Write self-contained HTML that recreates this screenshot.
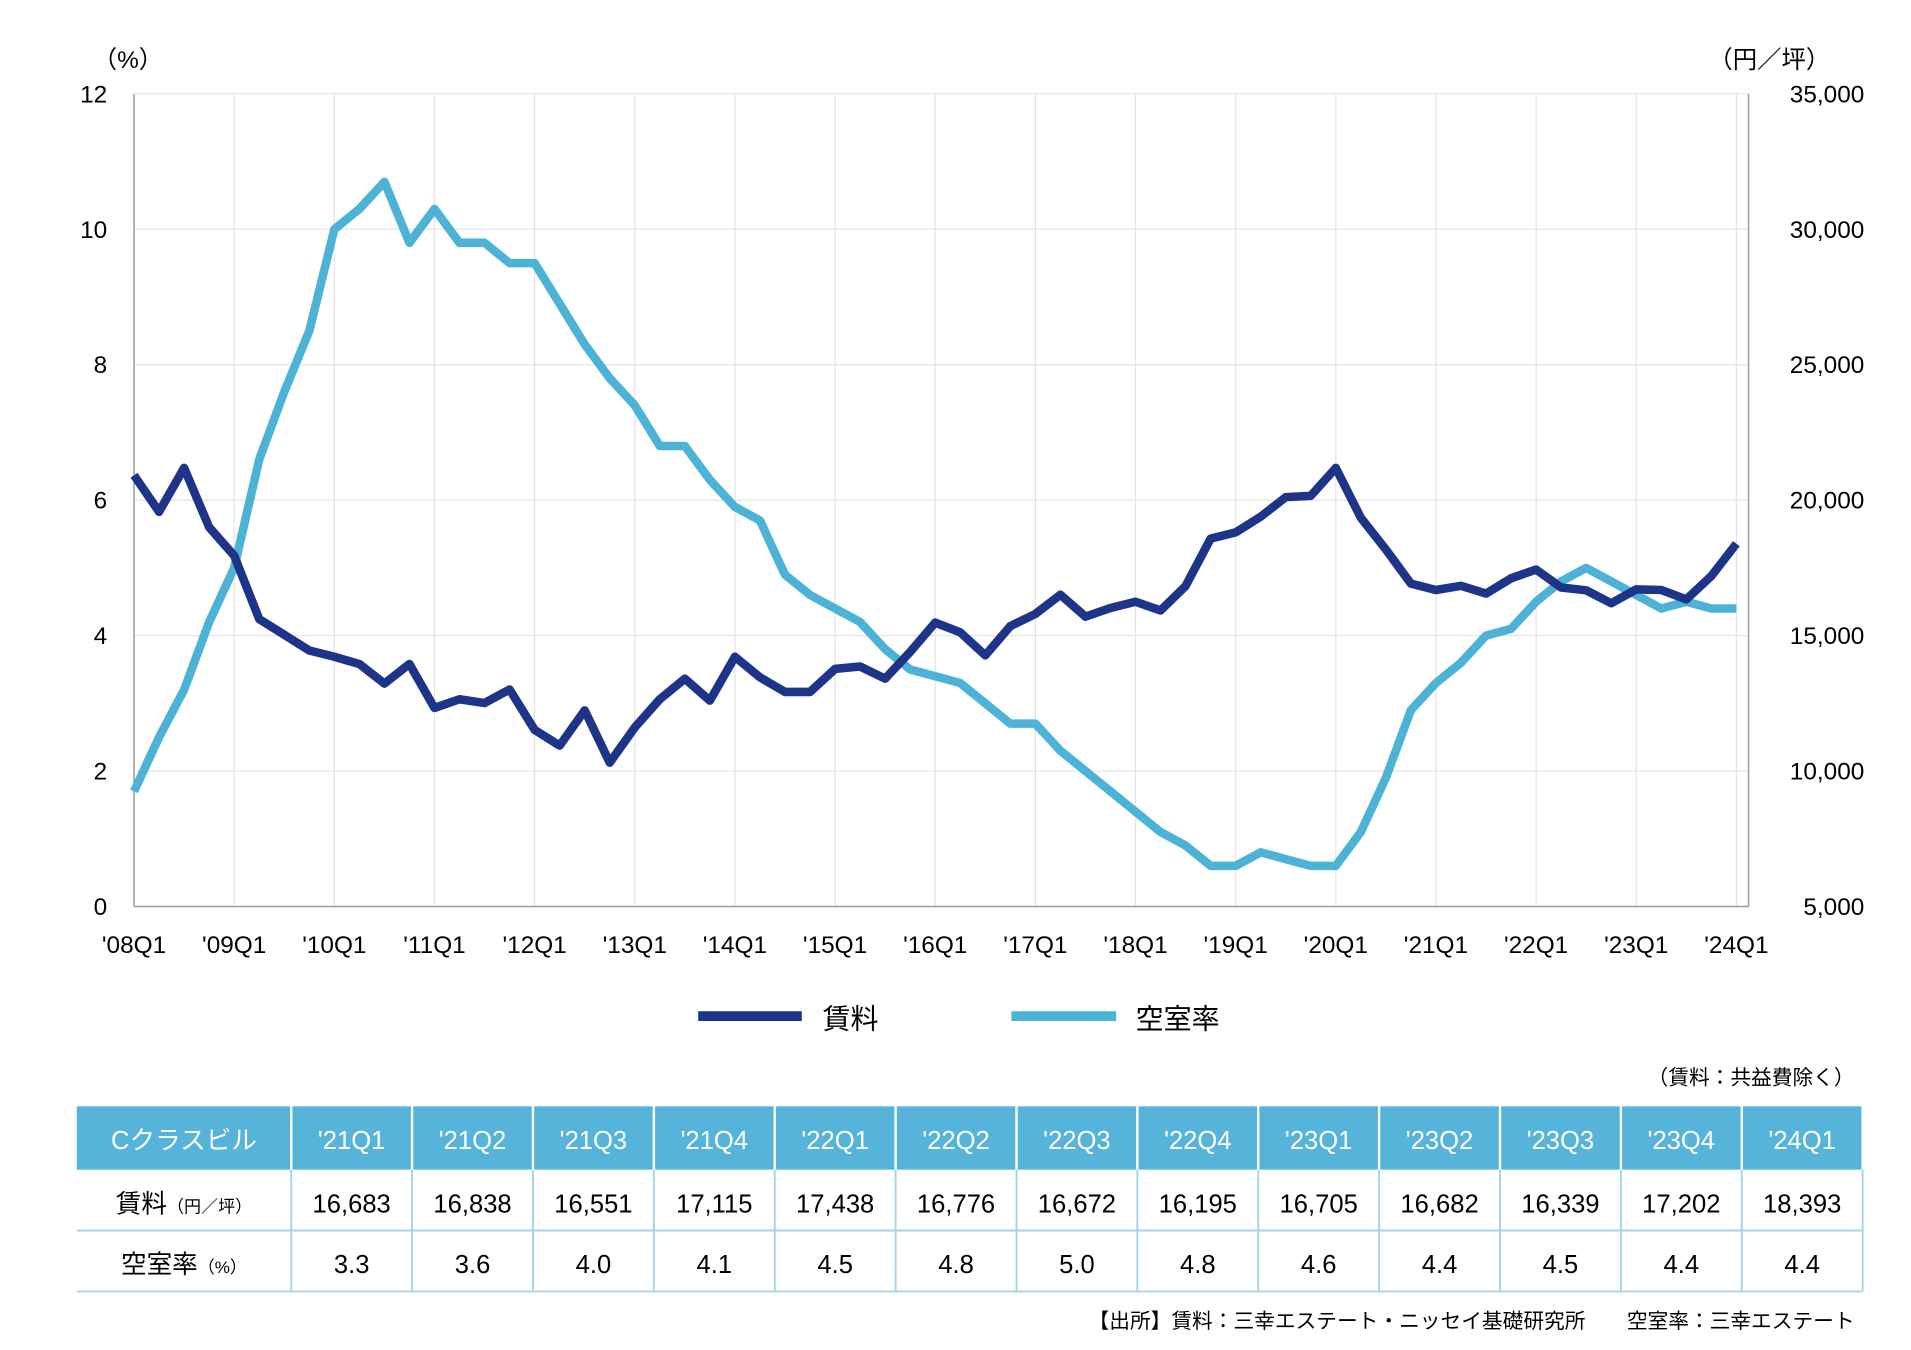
<!DOCTYPE html>
<html><head><meta charset="utf-8">
<style>
html,body{margin:0;padding:0;background:#fff;}
svg{display:block;font-family:"Liberation Sans","Noto Sans CJK JP",sans-serif;}
</style></head>
<body>
<svg id="chart" width="1911" height="1350" viewBox="0 0 1568.3 1108" preserveAspectRatio="none" xmlns="http://www.w3.org/2000/svg">
<g id="grid"></g>
<g id="axes"></g>
<g id="series"></g>
<text x="105" y="56" font-size="20" text-anchor="middle">（%）</text>
<text x="1452" y="56" font-size="20" text-anchor="middle">（円／坪）</text>
<g>
  <line x1="573" y1="834" x2="658" y2="834" stroke="#1e3489" stroke-width="8"/>
  <text x="675" y="844" font-size="23">賃料</text>
  <line x1="830" y1="834" x2="916" y2="834" stroke="#4db3d6" stroke-width="8"/>
  <text x="932" y="844" font-size="23">空室率</text>
</g>
<text x="1522" y="890" font-size="17" text-anchor="end">（賃料：共益費除く）</text>
<g id="table"></g>
<text x="1522" y="1090" font-size="17" text-anchor="end">【出所】賃料：三幸エステート・ニッセイ基礎研究所　　空室率：三幸エステート</text>
</svg>
<script>
const quarterLabels = ["'08Q1","'09Q1","'10Q1","'11Q1","'12Q1","'13Q1","'14Q1","'15Q1","'16Q1","'17Q1","'18Q1","'19Q1","'20Q1","'21Q1","'22Q1","'23Q1","'24Q1"];
const leftTicks = [0,2,4,6,8,10,12];
const rightTicks = [5000,10000,15000,20000,25000,30000,35000];
const vacancy = [1.7,2.5,3.2,4.2,5.0,6.6,7.6,8.5,10.0,10.3,10.7,9.8,10.3,9.8,9.8,9.5,9.5,8.9,8.3,7.8,7.4,6.8,6.8,6.3,5.9,5.7,4.9,4.6,4.4,4.2,3.8,3.5,3.4,3.3,3.0,2.7,2.7,2.3,2.0,1.7,1.4,1.1,0.9,0.6,0.6,0.8,0.7,0.6,0.6,1.1,1.9,2.9,3.3,3.6,4.0,4.1,4.5,4.8,5.0,4.8,4.6,4.4,4.5,4.4,4.4];
const rent = [20920,19570,21190,19000,17950,15610,15030,14450,14220,13950,13230,13950,12330,12650,12510,13010,11520,10940,12240,10310,11610,12650,13410,12600,14220,13460,12920,12920,13770,13860,13410,14400,15480,15120,14270,15350,15800,16510,15700,16020,16250,15930,16830,18580,18810,19390,20110,20160,21190,19350,18180,16920,16683,16838,16551,17115,17438,16776,16672,16195,16705,16682,16339,17202,18393];
const tableHeaders = ["'21Q1","'21Q2","'21Q3","'21Q4","'22Q1","'22Q2","'22Q3","'22Q4","'23Q1","'23Q2","'23Q3","'23Q4","'24Q1"];
const tableRent = ["16,683","16,838","16,551","17,115","17,438","16,776","16,672","16,195","16,705","16,682","16,339","17,202","18,393"];
const tableVacancy = ["3.3","3.6","4.0","4.1","4.5","4.8","5.0","4.8","4.6","4.4","4.5","4.4","4.4"];

const NS="http://www.w3.org/2000/svg";
const L=110,R=1435,T=77,B=744,X0=110,X1=1425;
const nQ=vacancy.length;
const xs=i=>X0+(X1-X0)*i/(nQ-1);
const yL=v=>B-(B-T)*v/12;
const yR=v=>B-(B-T)*(v-5000)/30000;
function mk(tag,attrs,parent){const e=document.createElementNS(NS,tag);for(const k in attrs)e.setAttribute(k,attrs[k]);parent.appendChild(e);return e;}
const grid=document.getElementById('grid'),axes=document.getElementById('axes'),series=document.getElementById('series');
leftTicks.forEach((t,i)=>{
  const y=yL(t);
  if(t>0){const g=mk('line',{x1:L,x2:R,y1:y,y2:y,stroke:'#e4e4e4','stroke-width':1},grid);
  
  }
  const tx=mk('text',{x:88,y:y+7,'font-size':20,'text-anchor':'end'},axes);tx.textContent=t;
  
  
});
rightTicks.forEach(t=>{
  const tx=mk('text',{x:1530,y:yR(t)+7,'font-size':20,'text-anchor':'end'},axes);tx.textContent=t.toLocaleString('en-US');
  
  
});
quarterLabels.forEach((q,i)=>{
  const x=xs(i*4);
  if(i>0){const g=mk('line',{x1:x,x2:x,y1:T,y2:B,stroke:'#e4e4e4','stroke-width':1},grid);
  
  }
  const tx=mk('text',{x:x,y:782,'font-size':20,'text-anchor':'middle'},axes);tx.textContent=q;
  
  
});
const ax1=mk('line',{x1:L,x2:L,y1:T,y2:B,stroke:'#999','stroke-width':1.2},axes);


const ax2=mk('line',{x1:R,x2:R,y1:T,y2:B,stroke:'#999','stroke-width':1.2},axes);


const ax3=mk('line',{x1:L,x2:R,y1:B,y2:B,stroke:'#999','stroke-width':1.2},axes);


const vp=mk('polyline',{points:vacancy.map((v,i)=>xs(i)+','+yL(v)).join(' '),fill:'none',stroke:'#4db3d6','stroke-width':7,'stroke-linejoin':'round'},series);


const rp=mk('polyline',{points:rent.map((v,i)=>xs(i)+','+yR(v)).join(' '),fill:'none',stroke:'#1e3489','stroke-width':7,'stroke-linejoin':'round'},series);



const tb=document.getElementById('table');
const tx0=63,c0w=176,cw=99.2,ty=908,rh=[52,50,50];
const hb=mk('rect',{x:tx0,y:ty,width:1528-tx0,height:rh[0],fill:'#56b4da'},tb);


const colX=i=>tx0+c0w+cw*i;
const h0=mk('text',{x:tx0+c0w/2,y:ty+35,'font-size':21,fill:'#fff','text-anchor':'middle'},tb);h0.textContent='Cクラスビル';


for(let i=0;i<=tableHeaders.length;i++){
  const x=colX(i);
  const l=mk('line',{x1:x,x2:x,y1:ty,y2:ty+rh[0],stroke:'#fff','stroke-width':2},tb);
  
  
  const l2=mk('line',{x1:x,x2:x,y1:ty+rh[0],y2:ty+rh[0]+rh[1]+rh[2],stroke:'#9fd3e8','stroke-width':1.5},tb);
  
  
}
tableHeaders.forEach((h,i)=>{
  const t=mk('text',{x:colX(i)+cw/2,y:ty+35,'font-size':21,fill:'#fff','text-anchor':'middle'},tb);t.textContent=h;
  
  
});
const y1=ty+rh[0],y2=y1+rh[1],y3=y2+rh[2];
[y2,y3].forEach(y=>{const l=mk('line',{x1:tx0,x2:1528,y1:y,y2:y,stroke:'#9fd3e8','stroke-width':1.5},tb);
  
  });
const r1=mk('text',{x:tx0+c0w/2,y:y1+35,'font-size':21,'text-anchor':'middle'},tb);
r1.innerHTML='賃料<tspan font-size="14">（円／坪）</tspan>';


const r2=mk('text',{x:tx0+c0w/2,y:y2+35,'font-size':21,'text-anchor':'middle'},tb);
r2.innerHTML='空室率<tspan font-size="14">（%）</tspan>';


tableRent.forEach((v,i)=>{const t=mk('text',{x:colX(i)+cw/2,y:y1+35,'font-size':21,'text-anchor':'middle'},tb);t.textContent=v;
  
  });
tableVacancy.forEach((v,i)=>{const t=mk('text',{x:colX(i)+cw/2,y:y2+35,'font-size':21,'text-anchor':'middle'},tb);t.textContent=v;
  
  });
</script>
</body></html>
